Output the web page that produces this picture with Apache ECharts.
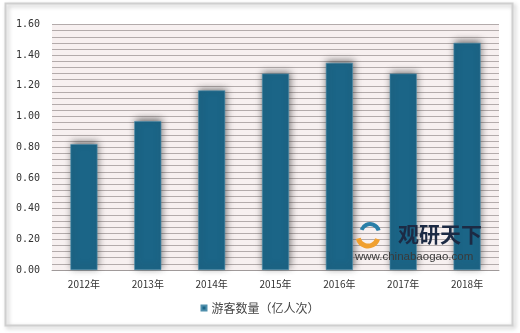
<!DOCTYPE html>
<html><head><meta charset="utf-8">
<script src="https://cdn.jsdelivr.net/npm/echarts@6/dist/echarts.min.js"></script>
<style>html,body{margin:0;padding:0;background:#fff}#c{width:520px;height:333px}</style>
</head><body><div id="c"></div>
<script>
var categories = ['2012年','2013年','2014年','2015年','2016年','2017年','2018年'];
var visitors = [0.82, 0.97, 1.17, 1.28, 1.35, 1.28, 1.48];
var seriesName = '游客数量（亿人次）';
var yTicks = [0, 0.2, 0.4, 0.6, 0.8, 1.0, 1.2, 1.4, 1.6];

var chart = echarts.init(document.getElementById('c'));
chart.setOption({
  animation: false,
  backgroundColor: '#fff',
  grid: {left: 52, right: 21, top: 24.5, bottom: 63, show: true, backgroundColor: '#f7f0f0', borderWidth: 0},
  legend: {
    bottom: 14, left: 'center', itemWidth: 5, itemHeight: 5, itemGap: 3,
    icon: 'rect',
    textStyle: {fontFamily: 'Noto Sans CJK SC', fontSize: 12, color: '#444'},
    data: [seriesName]
  },
  xAxis: {
    type: 'category', data: categories,
    axisLine: {show: true, lineStyle: {color: '#a09a9a', width: 1}},
    axisTick: {show: false},
    axisLabel: {margin: 9, fontFamily: 'Noto Sans CJK SC', fontSize: 10, color: '#333'}
  },
  yAxis: {
    type: 'value', min: yTicks[0], max: yTicks[yTicks.length-1], interval: 0.2,
    axisLine: {show: false}, axisTick: {show: false},
    axisLabel: {margin: 12, fontFamily: 'DejaVu Sans Mono', fontSize: 10, color: '#333',
      formatter: function(v){ return v.toFixed(2); }},
    splitLine: {show: true, lineStyle: {color: '#b3abab', width: 1}},
    minorTick: {show: false, splitNumber: 5},
    minorSplitLine: {show: true, lineStyle: {color: '#b3abab', width: 1}}
  },
  series: [{
    name: seriesName, type: 'bar', data: visitors, barWidth: 27,
    itemStyle: {color: '#1b6587', borderColor: '#4f8fac', borderWidth: 0.6,
      shadowColor: 'rgba(50,50,50,0.65)', shadowBlur: 7, shadowOffsetX: 1, shadowOffsetY: -2}
  }],
  graphic: [
    {type: 'rect', z: -10, shape: {x: 5.5, y: 3.5, width: 507, height: 322},
      style: {fill: 'none', stroke: '#cfcfcf', lineWidth: 2, shadowColor: 'rgba(0,0,0,0.25)', shadowBlur: 4, shadowOffsetX: 2, shadowOffsetY: 2}},
    {type: 'arc', z: 100, shape: {cx: 368, cy: 236, r: 10, startAngle: 0.3, endAngle: 2.9}, style: {stroke: '#f0a030', lineWidth: 5, fill: 'none'}},
    {type: 'arc', z: 100, shape: {cx: 370, cy: 233, r: 9, startAngle: 3.5, endAngle: 6.0}, style: {stroke: '#2a7fa8', lineWidth: 4, fill: 'none'}},
    {type: 'text', z: 100, left: 398, top: 224, style: {text: '观研天下', fill: '#1c2a44', font: 'bold 21px "Noto Sans CJK SC"'}},
    {type: 'text', z: 100, left: 355, top: 251, style: {text: 'www.chinabaogao.com', fill: '#3a3a3a', font: '11.5px "Liberation Sans"'}}
  ]
});
</script>
</body></html>
